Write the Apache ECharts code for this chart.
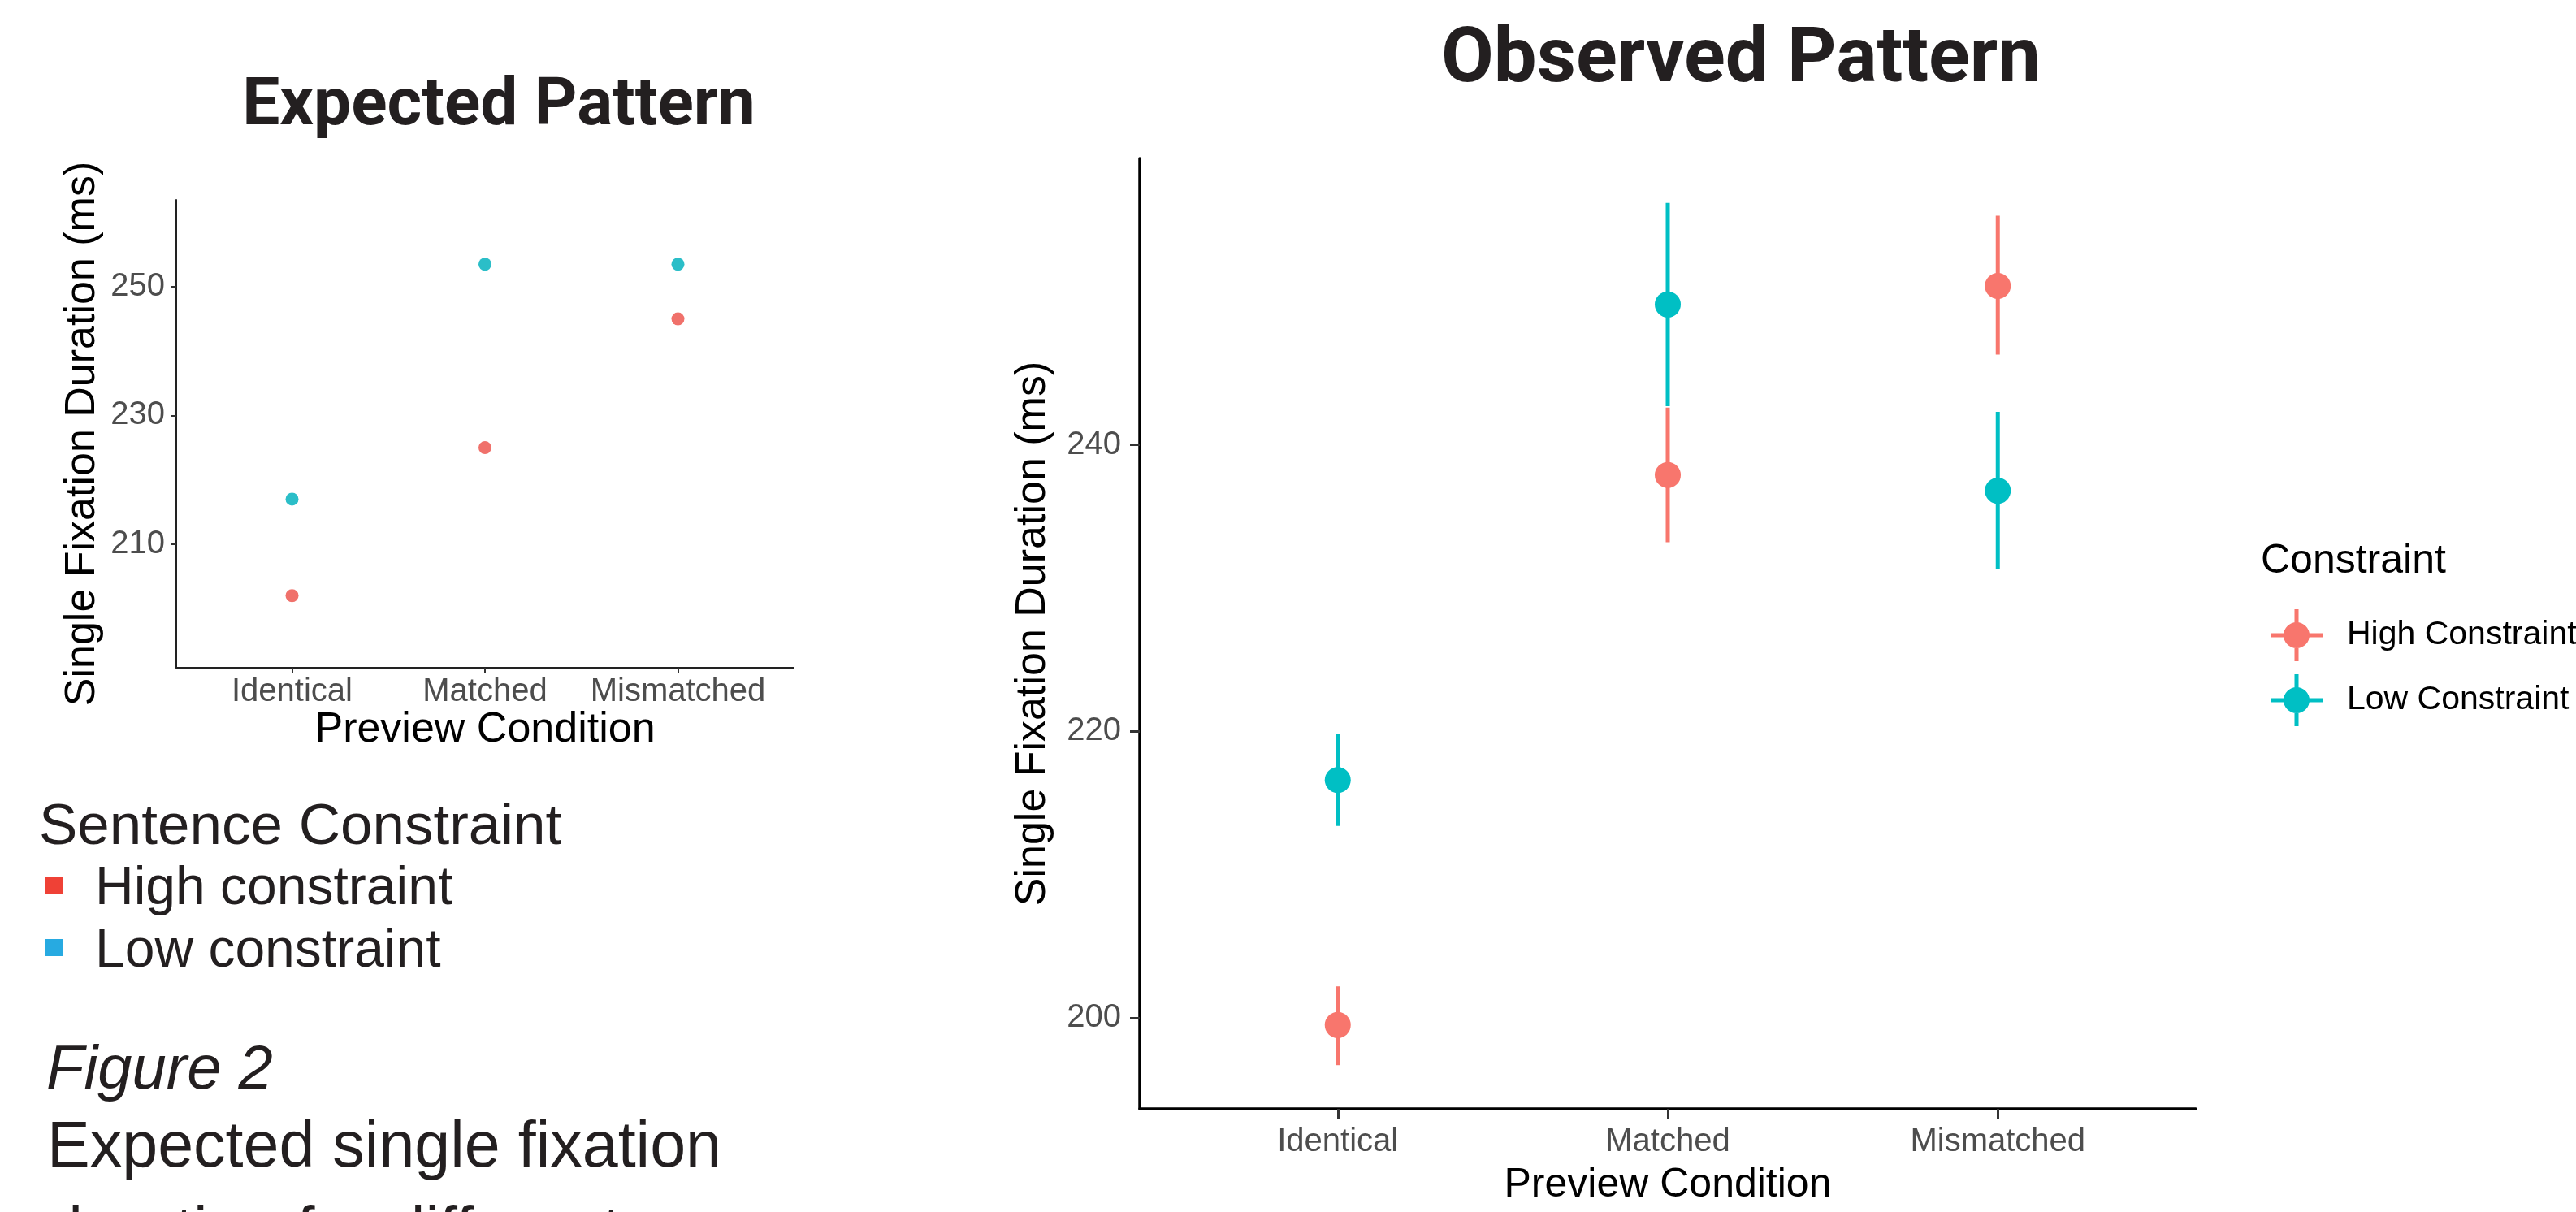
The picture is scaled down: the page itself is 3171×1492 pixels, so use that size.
<!DOCTYPE html>
<html><head><meta charset="utf-8">
<script src="https://cdn.jsdelivr.net/npm/echarts@6/dist/echarts.min.js"></script>
<style>html,body{margin:0;padding:0;background:#fff;overflow:hidden}#c{width:3171px;height:1492px}</style>
</head><body><div id="c"></div>
<script>
// ---- data ----
const categories = ['Identical', 'Matched', 'Mismatched'];
const expectedHigh = [202, 225, 245];
const expectedLow = [217, 253.5, 253.5];
const observedHigh = [199.5, 237.9, 251.1];
const observedHighLo = [196.7, 233.2, 246.3];
const observedHighHi = [202.2, 242.6, 256.0];
const observedLow = [216.6, 249.8, 236.8];
const observedLowLo = [213.4, 242.7, 231.3];
const observedLowHi = [219.8, 256.9, 242.3];
const expectedYTicks = [210, 230, 250];
const observedYTicks = [200, 220, 240];
const seriesNames = ['High Constraint', 'Low Constraint'];
const slideLegend = ['High constraint', 'Low constraint'];
const captionLines = ['Figure 2', 'Expected single fixation', 'duration for different'];

// ---- styles ----
const RED_OBS = '#F8766D', TEAL_OBS = '#00BFC4';
const RED_EXP = '#F0716B', TEAL_EXP = '#2BBEC8';
const SLIDE_RED = '#EF4136', SLIDE_BLUE = '#27AAE1';
const INK = '#231F20';
const AX = 'Liberation Sans';
const catPositions = categories.map((c, i) => i + 1);

function pts(vals) { return vals.map((v, i) => [i + 1, v]); }

function errorBars(name, lo, hi, color, z) {
  return {
    type: 'custom', name: name, xAxisIndex: 1, yAxisIndex: 1, z: z,
    data: categories.map((c, i) => [i + 1, lo[i], hi[i]]),
    encode: { x: 0, y: [1, 2] },
    renderItem: function (params, api) {
      const a = api.coord([api.value(0), api.value(1)]);
      const b = api.coord([api.value(0), api.value(2)]);
      return { type: 'line', shape: { x1: a[0], y1: a[1], x2: b[0], y2: b[1] },
               style: { stroke: color, lineWidth: 5 } };
    }
  };
}

const crossIcon = 'path://M0 29.5H64V34.5H0Z M29.5 0H34.5V64H29.5Z M48 32A16 16 0 1 1 16 32A16 16 0 1 1 48 32Z';

function xAxisCfg(gridIndex, o) {
  return {
    type: 'value', gridIndex: gridIndex, min: 0.4, max: 3.6,
    splitLine: { show: false },
    axisLine: { show: true, lineStyle: { color: o.lineColor, width: o.lineWidth } },
    axisTick: { show: true, customValues: catPositions, length: o.tickLen, lineStyle: { color: '#333', width: o.tickWidth } },
    axisLabel: { customValues: catPositions, formatter: v => categories[Math.round(v) - 1], color: '#4D4D4D',
                 fontSize: o.labelSize, fontFamily: AX, margin: o.labelMargin },
    name: 'Preview Condition', nameLocation: 'middle', nameGap: o.nameGap,
    nameTextStyle: { fontSize: o.nameSize, fontFamily: AX, color: '#000' }
  };
}
function yAxisCfg(gridIndex, min, max, ticks, o) {
  return {
    type: 'value', gridIndex: gridIndex, min: min, max: max,
    splitLine: { show: false },
    axisLine: { show: true, lineStyle: { color: o.lineColor, width: o.lineWidth } },
    axisTick: { show: true, customValues: ticks, length: o.tickLen, lineStyle: { color: '#333', width: o.tickWidth } },
    axisLabel: { customValues: ticks, color: '#4D4D4D', fontSize: o.labelSize, fontFamily: AX, margin: o.labelMargin },
    name: 'Single Fixation Duration (ms)', nameLocation: 'middle', nameGap: o.nameGap,
    nameTextStyle: { fontSize: o.nameSize, fontFamily: AX, color: '#000' }
  };
}

const chart = echarts.init(document.getElementById('c'), null, { renderer: 'canvas' });
chart.setOption({
  backgroundColor: '#fff',
  animation: false,
  title: [
    { text: 'Expected Pattern', left: 614, top: 132, textAlign: 'center', textVerticalAlign: 'middle', padding: 0,
      textStyle: { fontSize: 82, fontWeight: 'bold', fontFamily: 'Roboto', color: INK } },
    { text: 'Observed Pattern', left: 2143, top: 76, textAlign: 'center', textVerticalAlign: 'middle', padding: 0,
      textStyle: { fontSize: 94, fontWeight: 'bold', fontFamily: 'Roboto', color: INK } }
  ],
  grid: [
    { left: 217, top: 246, width: 760, height: 576 },
    { left: 1403, top: 195, width: 1300, height: 1170 }
  ],
  xAxis: [
    xAxisCfg(0, { lineColor: '#222', lineWidth: 2, tickLen: 7, tickWidth: 2, labelSize: 40, labelMargin: 10, nameGap: 49, nameSize: 52 }),
    xAxisCfg(1, { lineColor: '#000', lineWidth: 3.5, tickLen: 12, tickWidth: 3, labelSize: 40, labelMargin: 21, nameGap: 69, nameSize: 50 })
  ],
  yAxis: [
    yAxisCfg(0, 190.8, 263.5, expectedYTicks, { lineColor: '#222', lineWidth: 2, tickLen: 7, tickWidth: 2, labelSize: 40, labelMargin: 14, nameGap: 89, nameSize: 52 }),
    yAxisCfg(1, 193.65, 260, observedYTicks, { lineColor: '#000', lineWidth: 3.5, tickLen: 12, tickWidth: 3, labelSize: 40, labelMargin: 23, nameGap: 105, nameSize: 52 })
  ],
  legend: {
    orient: 'vertical', left: 2790, top: 745, itemWidth: 64, itemHeight: 64, itemGap: 16,
    selectedMode: false,
    data: seriesNames.map(n => ({ name: n, icon: crossIcon })),
    textStyle: { fontSize: 41, fontFamily: AX, color: '#000', padding: [0, 0, 0, 25] }
  },
  series: [
    { type: 'scatter', name: 'Expected High', xAxisIndex: 0, yAxisIndex: 0, data: pts(expectedHigh),
      symbolSize: 16, itemStyle: { color: RED_EXP, opacity: 1 } },
    { type: 'scatter', name: 'Expected Low', xAxisIndex: 0, yAxisIndex: 0, data: pts(expectedLow),
      symbolSize: 16, itemStyle: { color: TEAL_EXP, opacity: 1 } },
    errorBars('High Constraint range', observedHighLo, observedHighHi, RED_OBS, 2),
    { type: 'scatter', name: seriesNames[0], xAxisIndex: 1, yAxisIndex: 1, data: pts(observedHigh), z: 3,
      symbolSize: 32, itemStyle: { color: RED_OBS, opacity: 1 } },
    errorBars('Low Constraint range', observedLowLo, observedLowHi, TEAL_OBS, 4),
    { type: 'scatter', name: seriesNames[1], xAxisIndex: 1, yAxisIndex: 1, data: pts(observedLow), z: 5,
      symbolSize: 32, itemStyle: { color: TEAL_OBS, opacity: 1 } }
  ],
  graphic: [
    { type: 'text', x: 2783, y: 691, style: { text: 'Constraint', font: '50px "Liberation Sans"', fill: '#000', align: 'left', verticalAlign: 'middle' } },
    { type: 'text', x: 48, y: 1019, style: { text: 'Sentence Constraint', font: '71px "Liberation Sans"', fill: INK, align: 'left', verticalAlign: 'middle' } },
    { type: 'rect', shape: { x: 56, y: 1079, width: 22, height: 21 }, style: { fill: SLIDE_RED } },
    { type: 'text', x: 117, y: 1095, style: { text: slideLegend[0], font: '66px "Liberation Sans"', fill: INK, align: 'left', verticalAlign: 'middle' } },
    { type: 'rect', shape: { x: 56, y: 1156, width: 22, height: 21 }, style: { fill: SLIDE_BLUE } },
    { type: 'text', x: 117, y: 1172, style: { text: slideLegend[1], font: '66px "Liberation Sans"', fill: INK, align: 'left', verticalAlign: 'middle' } },
    { type: 'text', x: 57, y: 1319, style: { text: captionLines[0], font: 'italic 76px "Liberation Sans"', fill: INK, align: 'left', verticalAlign: 'middle' } },
    { type: 'text', x: 58, y: 1414, style: { text: captionLines[1], font: '79px "Liberation Sans"', fill: INK, align: 'left', verticalAlign: 'middle' } },
    { type: 'text', x: 58, y: 1519, style: { text: captionLines[2], font: '79px "Liberation Sans"', fill: INK, align: 'left', verticalAlign: 'middle' } }
  ]
});
</script>
</body></html>
